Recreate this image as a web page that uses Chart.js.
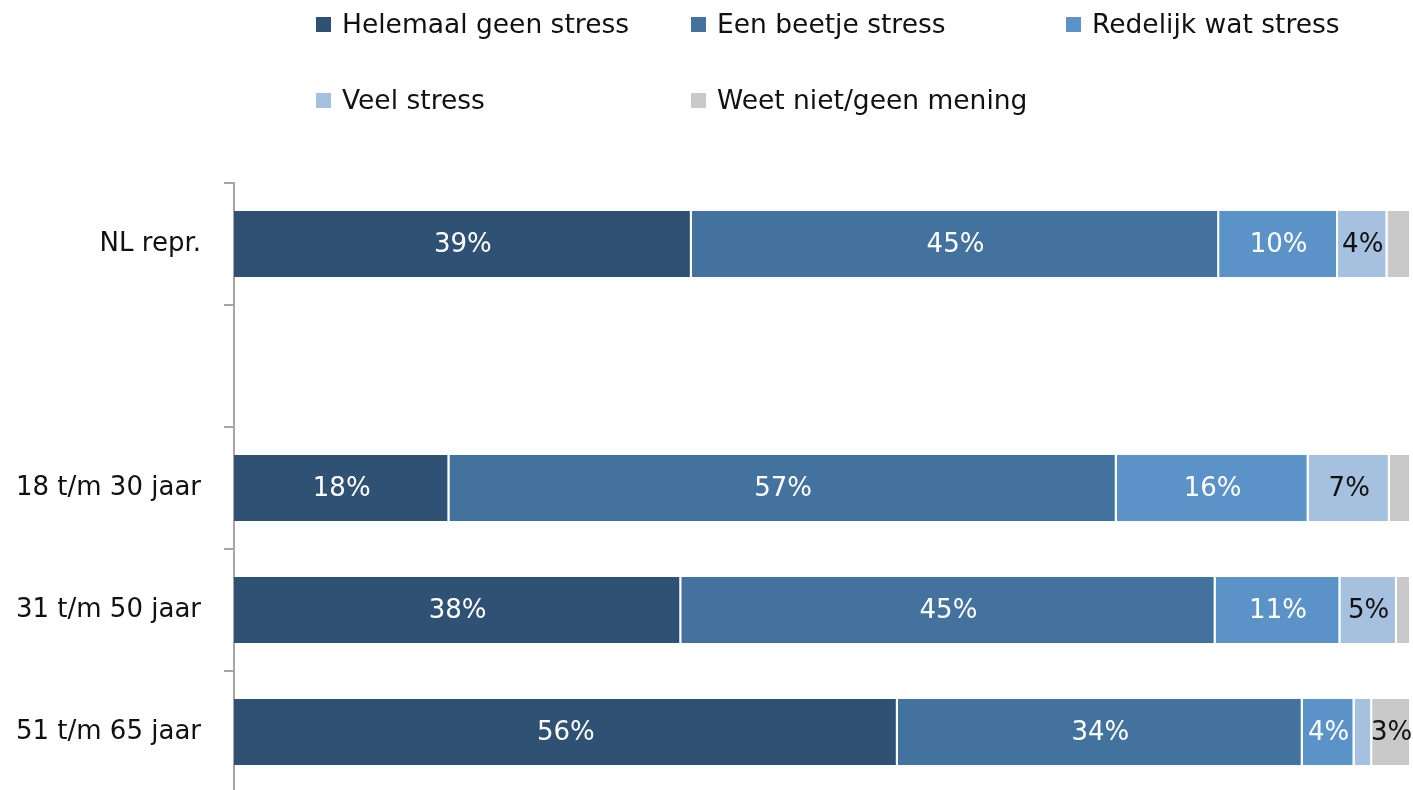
<!DOCTYPE html>
<html lang="nl">
<head>
  <meta charset="UTF-8">
  <title>Stress per leeftijdsgroep</title>
  <script src="https://cdn.jsdelivr.net/npm/chart.js"></script>
  <style>
    html, body {
      margin: 0;
      padding: 0;
      background: #ffffff;
      overflow: hidden;
    }
    canvas {
      display: block;
    }
  </style>
</head>
<body>
  <canvas id="chart" width="1413" height="793"></canvas>

  <script>
    // Categories (empty entry = gap between NL repr. and the age groups)
    const categories = ['NL repr.', '', '18 t/m 30 jaar', '31 t/m 50 jaar', '51 t/m 65 jaar']

    const seriesNames = [
      'Helemaal geen stress',
      'Een beetje stress',
      'Redelijk wat stress',
      'Veel stress',
      'Weet niet/geen mening'
    ]

    // Percentages
    const geenStress = [38.9, null, 18.3, 38.0, 56.4]
    const beetjeStress = [44.8, null, 56.7, 45.4, 34.4]
    const redelijkStress = [10.1, null, 16.3, 10.6, 4.4]
    const veelStress = [4.2, null, 6.9, 4.8, 1.5]
    const weetNiet = [2.0, null, 1.8, 1.2, 3.3]

    const colors = ['#2f5274', '#44729f', '#5b93c8', '#a6c1e0', '#c9c9c9']
    const labelColors = ['#ffffff', '#ffffff', '#ffffff', '#111111', '#111111']
    const fontFamily = '"DejaVu Sans", "Noto Sans", sans-serif'

    const seriesValues = [geenStress, beetjeStress, redelijkStress, veelStress, weetNiet]

    // Legend drawn by hand so the columns line up like the original
    const legendPlugin = {
      id: 'gridLegend',
      afterDraw(chart) {
        const ctx = chart.ctx
        const colX = [316, 691, 1066]
        const rowY = [25, 101]
        ctx.save()
        ctx.font = '26.5px ' + fontFamily
        ctx.textBaseline = 'middle'
        ctx.textAlign = 'left'
        chart.data.datasets.forEach((ds, i) => {
          const x = colX[i % 3]
          const y = rowY[Math.floor(i / 3)]
          ctx.fillStyle = ds.backgroundColor
          ctx.fillRect(x, y - 8, 15, 15)
          ctx.fillStyle = '#111111'
          ctx.fillText(ds.label, x + 26, y + 1)
        })
        ctx.restore()
      }
    }

    // Percent labels inside the segments
    const valueLabels = {
      id: 'valueLabels',
      afterDatasetsDraw(chart) {
        const ctx = chart.ctx
        ctx.save()
        ctx.font = '26px ' + fontFamily
        ctx.textAlign = 'center'
        ctx.textBaseline = 'middle'
        chart.data.datasets.forEach((ds, i) => {
          const meta = chart.getDatasetMeta(i)
          meta.data.forEach((bar, j) => {
            const v = ds.data[j]
            if (v == null || Math.round(v) < 3) return
            const cx = (bar.x + bar.base) / 2
            ctx.fillStyle = labelColors[i]
            ctx.fillText(Math.round(v) + '%', cx, bar.y + 1)
          })
        })
        ctx.restore()
      }
    }

    new Chart(document.getElementById('chart'), {
      type: 'bar',
      data: {
        labels: categories,
        datasets: seriesNames.map((name, i) => ({
          label: name,
          data: seriesValues[i],
          backgroundColor: colors[i],
          borderColor: '#ffffff',
          borderWidth: { top: 0, bottom: 0, left: 0, right: 2 },
          borderSkipped: false,
          categoryPercentage: 0.54,
          barPercentage: 1.0
        }))
      },
      options: {
        indexAxis: 'y',
        responsive: false,
        animation: false,
        layout: {
          padding: { top: 183, right: 2, bottom: 0, left: 0 }
        },
        plugins: {
          legend: { display: false },
          tooltip: { enabled: false }
        },
        scales: {
          x: {
            stacked: true,
            min: 0,
            max: 100,
            display: false
          },
          y: {
            stacked: true,
            afterFit(scale) {
              // fixed axis width, and no extra room reserved for half labels
              scale.width = 234
              scale.paddingTop = 0
              scale.paddingBottom = 0
            },
            border: { display: true, color: '#a6a6a6', width: 2 },
            grid: {
              drawOnChartArea: false,
              drawTicks: true,
              tickLength: 10,
              color: '#a6a6a6',
              lineWidth: 2,
              offset: true
            },
            ticks: {
              padding: 23,
              color: '#111111',
              font: { family: fontFamily, size: 26 }
            }
          }
        }
      },
      plugins: [legendPlugin, valueLabels]
    })
  </script>
</body>
</html>
